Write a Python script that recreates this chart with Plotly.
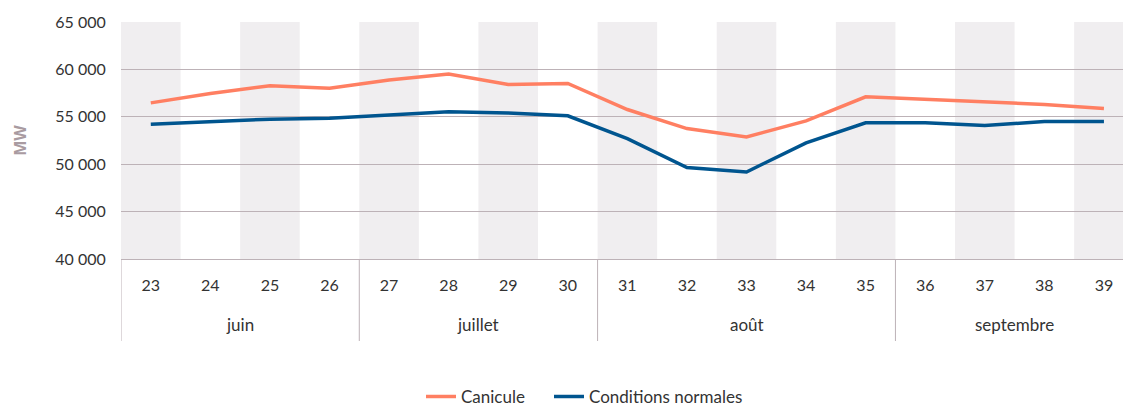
import plotly.graph_objects as go

weeks = ["23", "24", "25", "26", "27", "28", "29", "30", "31", "32", "33", "34", "35", "36", "37", "38", "39"]
months = ["juin"] * 4 + ["juillet"] * 4 + ["août"] * 5 + ["septembre"] * 4
canicule = [56470, 57460, 58270, 58020, 58870, 59510, 58410, 58520, 55770, 53760, 52880, 54570, 57110, 56860, 56580, 56300, 55880]
normales = [54220, 54460, 54750, 54850, 55200, 55520, 55410, 55100, 52700, 49640, 49180, 52250, 54360, 54360, 54080, 54500, 54500]
y_ticks = [40000, 45000, 50000, 55000, 60000, 65000]

FONT = "Lato"
GRID = "#bdb2b7"
BAND = "#f0eef0"
TXT = "#333333"

fig = go.Figure()
xs = list(range(len(weeks)))
fig.add_trace(go.Scatter(x=xs, y=canicule, mode="lines", name="Canicule", legend="legend",
                         line=dict(color="#ff7f62", width=3.5)))
fig.add_trace(go.Scatter(x=xs, y=normales, mode="lines", name="Conditions normales", legend="legend2",
                         line=dict(color="#00558f", width=3.5)))

shapes = []
for i in xs:
    if i % 2 == 0:
        shapes.append(dict(type="rect", xref="x", yref="paper", x0=i - 0.5, x1=i + 0.5, y0=0, y1=1,
                           fillcolor=BAND, line=dict(width=0), layer="below"))

annotations = []
groups = []
start = 0
for i in range(1, len(months) + 1):
    if i == len(months) or months[i] != months[start]:
        groups.append((months[start], start, i - 1))
        start = i
for name, a, b in groups:
    shapes.append(dict(type="line", xref="x", yref="paper", x0=a - 0.5, x1=a - 0.5, y0=0, y1=-0.346,
                       line=dict(color=GRID, width=1)))
    annotations.append(dict(x=(a + b) / 2, y=-0.278, xref="x", yref="paper", text=name,
                            showarrow=False, yanchor="middle",
                            font=dict(family=FONT, size=17, color=TXT)))

legend_common = dict(orientation="h", xanchor="left", y=-0.658, yanchor="bottom",
                     font=dict(family=FONT, size=17, color=TXT), itemwidth=30,
                     bgcolor="rgba(0,0,0,0)")

fig.update_layout(
    width=1123, height=415,
    margin=dict(l=121, r=0, t=22, b=156, autoexpand=False),
    paper_bgcolor="white", plot_bgcolor="white",
    separators=", ",
    font=dict(family=FONT, size=16, color=TXT),
    shapes=shapes, annotations=annotations,
    showlegend=True,
    legend=dict(x=(421 - 121) / 1002, **legend_common),
    legend2=dict(x=(549 - 121) / 1002, **legend_common),
)
fig.update_xaxes(
    range=[-0.5, 16.32], tickmode="array", tickvals=xs, ticktext=weeks, automargin=False,
    showgrid=False, zeroline=False, showline=True, linecolor=GRID, linewidth=1,
    ticks="outside", ticklen=12, tickcolor="rgba(0,0,0,0)",
    tickfont=dict(family=FONT, size=16, color=TXT),
)
fig.update_yaxes(
    range=[40000, 65000], tickvals=y_ticks, tickformat=",d", automargin=False,
    showgrid=True, gridcolor=GRID, gridwidth=1, zeroline=False, showline=False,
    ticks="outside", ticklen=11, tickcolor="rgba(0,0,0,0)",
    tickfont=dict(family=FONT, size=16, color=TXT),
    title=dict(text="<b>MW</b>", font=dict(family="Noto Sans", size=16, color="#a99ba1"), standoff=24),
)

fig.write_html("out.html", config={"displayModeBar": False},
               post_script="document.body.style.margin='0';document.body.style.overflow='hidden';")
